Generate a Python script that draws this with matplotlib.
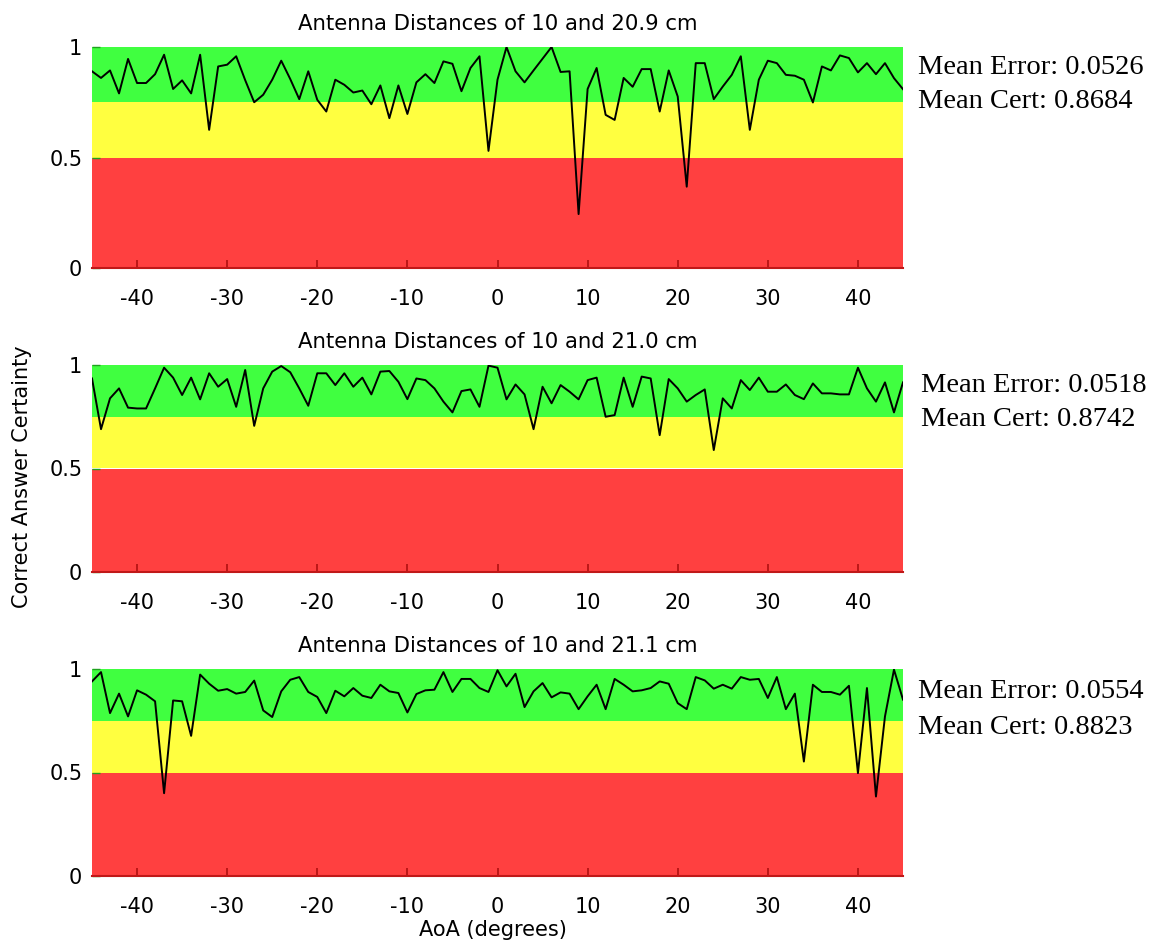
import numpy as np
import matplotlib
matplotlib.use("Agg")
import matplotlib.pyplot as plt

# ---------------- data ----------------
aoa = list(range(-45, 46))

cert_209 = [0.89, 0.86, 0.894, 0.79, 0.946, 0.837, 0.837, 0.877, 0.965, 0.81, 0.849, 0.79, 0.965, 0.625,
            0.912, 0.92, 0.958, 0.85, 0.75, 0.784, 0.852, 0.938, 0.855, 0.764, 0.89, 0.761, 0.708, 0.852,
            0.829, 0.794, 0.803,
            0.741, 0.826, 0.678, 0.826, 0.697, 0.84, 0.877, 0.837, 0.935, 0.924, 0.80, 0.905, 0.958, 0.53,
            0.852, 1.0, 0.89, 0.84, 0.894, 0.947, 1.0, 0.887, 0.89, 0.244, 0.81, 0.905, 0.693, 0.67, 0.86, 0.82,
            0.90, 0.90, 0.708, 0.894, 0.776, 0.368, 0.927, 0.927, 0.764, 0.821, 0.874, 0.958, 0.625, 0.852,
            0.938, 0.927, 0.874, 0.87, 0.852, 0.749, 0.912, 0.894, 0.962, 0.95, 0.885, 0.927, 0.877, 0.927,
            0.859, 0.809]

cert_210 = [0.935, 0.69, 0.839, 0.887, 0.794, 0.79, 0.79, 0.887, 0.987, 0.939, 0.855, 0.939, 0.834, 0.96,
            0.895, 0.932, 0.798, 0.976, 0.706, 0.887, 0.968, 0.995, 0.965, 0.887, 0.803, 0.96, 0.96, 0.903,
            0.96, 0.895, 0.939,
            0.858, 0.968, 0.971, 0.919, 0.835, 0.935, 0.927, 0.887, 0.823, 0.771, 0.874, 0.882, 0.798, 0.997,
            0.987, 0.834, 0.906, 0.858, 0.69, 0.895, 0.815, 0.903, 0.871, 0.834, 0.927, 0.939, 0.75, 0.758,
            0.939, 0.798,
            0.944, 0.935, 0.661, 0.932, 0.887, 0.823, 0.855, 0.882, 0.589, 0.839, 0.79, 0.927, 0.879, 0.939,
            0.871, 0.871, 0.906, 0.855, 0.835, 0.911, 0.863, 0.863, 0.858, 0.858, 0.987, 0.887, 0.823, 0.916,
            0.771, 0.916]

cert_211 = [0.94, 0.985, 0.787, 0.881, 0.771, 0.897, 0.876, 0.844, 0.40, 0.848, 0.844, 0.677, 0.973, 0.929,
            0.895, 0.903, 0.881, 0.889, 0.944, 0.80, 0.768, 0.892, 0.948, 0.961, 0.889, 0.865, 0.787, 0.895,
            0.868, 0.908, 0.871,
            0.86, 0.924, 0.892, 0.884, 0.79, 0.879, 0.897, 0.90, 0.985, 0.889, 0.952, 0.952, 0.908, 0.889,
            0.994, 0.916, 0.977, 0.816, 0.892, 0.932, 0.863, 0.887, 0.881, 0.806, 0.868, 0.924, 0.806, 0.952,
            0.924, 0.892,
            0.897, 0.908, 0.94, 0.929, 0.835, 0.806, 0.961, 0.945, 0.905, 0.924, 0.905, 0.961, 0.948, 0.952,
            0.86, 0.961, 0.806, 0.881, 0.553, 0.924, 0.889, 0.889, 0.876, 0.919, 0.497, 0.908, 0.384, 0.771,
            0.997, 0.852]

titles = ["Antenna Distances of 10 and 20.9 cm",
          "Antenna Distances of 10 and 21.0 cm",
          "Antenna Distances of 10 and 21.1 cm"]
mean_errors = ["0.0526", "0.0518", "0.0554"]
mean_certs = ["0.8684", "0.8742", "0.8823"]
series = [cert_209, cert_210, cert_211]

band_edges = [0.0, 0.5, 0.75, 1.0]
band_colors = ["#ff4040", "#ffff40", "#40ff40"]

xticks = [-40, -30, -20, -10, 0, 10, 20, 30, 40]
yticks = [0, 0.5, 1]
yticklabels = ["0", "0.5", "1"]

# ---------------- layout ----------------
plt.rcParams['font.family'] = ['DejaVu Sans']
plt.rcParams['axes.unicode_minus'] = False

W, H = 1155, 948
fig = plt.figure(figsize=(W / 100, H / 100), dpi=100)

# (top, bottom) in pixels for each panel
panel_px = [(47, 268), (365, 572), (669, 876)]
left_px, right_px = 92, 903
text_px = [(918, 67, 102), (921, 385, 420), (918, 691, 727)]

for i, (top, bot) in enumerate(panel_px):
    ax = fig.add_axes([left_px / W, 1 - bot / H, (right_px - left_px) / W, (bot - top) / H])
    for j in range(3):
        ax.axhspan(band_edges[j], band_edges[j + 1], color=band_colors[j], lw=0, zorder=0)
    ax.plot(aoa, series[i], color="black", lw=1.4, zorder=3)
    ax.set_xlim(-45, 45)
    ax.set_ylim(0, 1)
    ax.set_xticks(xticks)
    ax.set_yticks(yticks)
    ax.set_yticklabels(yticklabels)
    ax.tick_params(axis="x", direction="in", length=6, width=1.2, color="#b01010",
                   labelsize=15, pad=15)
    ax.tick_params(axis="y", direction="in", length=6, width=1.0, color="#20a020",
                   labelsize=15, pad=7)
    for s in ["top", "right", "left"]:
        ax.spines[s].set_visible(False)
    ax.spines["bottom"].set_color("#c01818")
    ax.spines["bottom"].set_linewidth(1.5)
    ax.set_title(titles[i], fontsize=15.3, pad=12)

    tx, ty1, ty2 = text_px[i]
    fig.text(tx / W, 1 - ty1 / H, "Mean Error: " + mean_errors[i], family="Liberation Serif",
             fontsize=20.5, va="center", ha="left")
    fig.text(tx / W, 1 - ty2 / H, "Mean Cert: " + mean_certs[i], family="Liberation Serif",
             fontsize=20.5, va="center", ha="left")

fig.text(22 / W, 1 - 477 / H, "Correct Answer Certainty", rotation=90, fontsize=15,
         va="center", ha="center")
fig.text(493 / W, 1 - 930 / H, "AoA (degrees)", fontsize=15, va="center", ha="center")

fig.savefig("out.png", dpi=100, facecolor="white")
